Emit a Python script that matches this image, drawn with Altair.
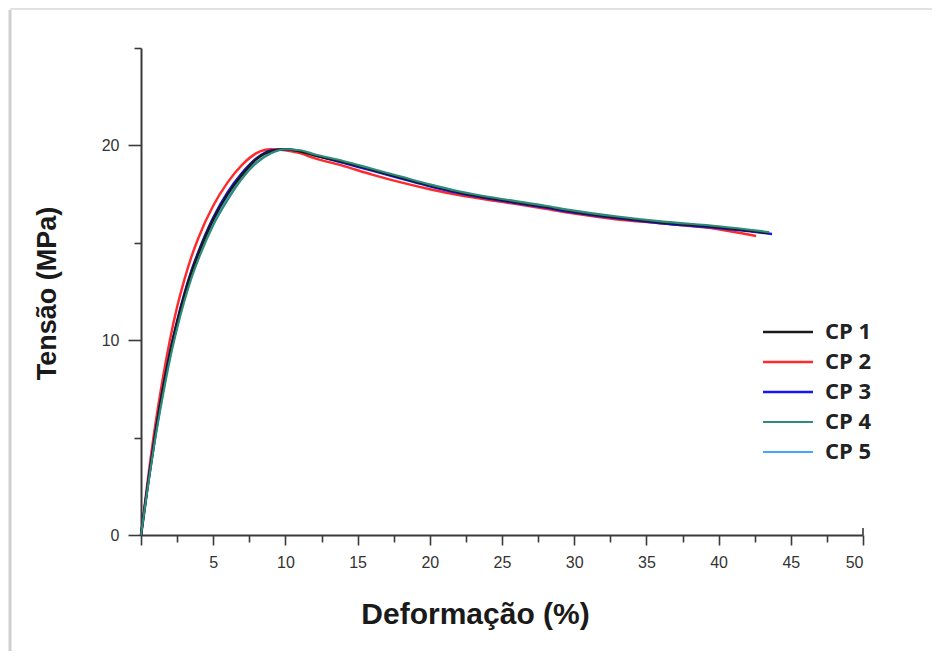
import altair as alt
import pandas as pd

series = ["CP 1", "CP 2", "CP 3", "CP 4", "CP 5"]
colors = ["#1a1a1a", "#ff2a2a", "#1414ff", "#2e8b7a", "#44a8ff"]
widths = [2.6, 2.0, 2.8, 2.4, 1.8]

strain_cp1 = [0, 0.5, 1, 1.5, 2, 2.5, 3, 3.5, 4, 5, 6, 7, 8, 9, 10, 11, 12, 14, 16, 18, 20, 22, 25, 28, 30, 33, 36, 40, 43.5]
stress_cp1 = [0, 2.7, 5.2, 7.4, 9.3, 10.9, 12.3, 13.5, 14.5, 16.2, 17.5, 18.5, 19.3, 19.7, 19.8, 19.7, 19.5, 19.15, 18.75, 18.35, 17.95, 17.6, 17.2, 16.85, 16.6, 16.3, 16.05, 15.8, 15.5]

strain_cp2 = [0, 0.5, 1, 1.5, 2, 2.5, 3, 3.5, 4, 5, 6, 7, 8, 9, 10, 11, 12, 14, 16, 18, 20, 22, 25, 28, 30, 33, 36, 40, 42.6]
stress_cp2 = [0, 3.0, 5.7, 8.0, 10.0, 11.7, 13.1, 14.3, 15.3, 16.9, 18.1, 19.0, 19.6, 19.8, 19.75, 19.6, 19.35, 18.95, 18.5, 18.1, 17.75, 17.45, 17.1, 16.75, 16.5, 16.2, 16.0, 15.7, 15.35]

strain_cp3 = [0, 0.5, 1, 1.5, 2, 2.5, 3, 3.5, 4, 5, 6, 7, 8, 9, 10, 11, 12, 14, 16, 18, 20, 22, 25, 28, 30, 33, 36, 40, 43.7]
stress_cp3 = [0, 2.8, 5.3, 7.5, 9.4, 11.0, 12.4, 13.6, 14.6, 16.3, 17.6, 18.6, 19.35, 19.75, 19.8, 19.7, 19.5, 19.1, 18.7, 18.3, 17.9, 17.55, 17.15, 16.8, 16.55, 16.25, 16.0, 15.75, 15.45]

strain_cp4 = [0, 0.5, 1, 1.5, 2, 2.5, 3, 3.5, 4, 5, 6, 7, 8, 9, 10, 11, 12, 14, 16, 18, 20, 22, 25, 28, 30, 33, 36, 40, 43.5]
stress_cp4 = [0, 2.6, 5.0, 7.1, 9.0, 10.6, 12.0, 13.2, 14.2, 15.9, 17.2, 18.3, 19.1, 19.6, 19.8, 19.75, 19.55, 19.2, 18.8, 18.4, 18.0, 17.65, 17.25, 16.9, 16.65, 16.35, 16.1, 15.85, 15.55]

strain_cp5 = [0, 0.5, 1, 1.5, 2, 2.5, 3, 3.5, 4, 5, 6, 7, 8, 9, 10, 11, 12, 14, 16, 18, 20, 22, 25, 28, 30, 33, 36, 40, 43.4]
stress_cp5 = [0, 2.65, 5.05, 7.2, 9.1, 10.7, 12.1, 13.3, 14.3, 16.0, 17.3, 18.35, 19.15, 19.6, 19.8, 19.7, 19.5, 19.15, 18.75, 18.35, 17.95, 17.6, 17.2, 16.85, 16.6, 16.3, 16.05, 15.8, 15.5]

x_tick_values = [0, 2.5, 5, 7.5, 10, 12.5, 15, 17.5, 20, 22.5, 25, 27.5, 30, 32.5, 35, 37.5, 40, 42.5, 45, 47.5, 50]
y_tick_values = [0, 5, 10, 15, 20, 25]
x_end = [50]

curves = [
    ("CP 5", strain_cp5, stress_cp5),
    ("CP 2", strain_cp2, stress_cp2),
    ("CP 3", strain_cp3, stress_cp3),
    ("CP 1", strain_cp1, stress_cp1),
    ("CP 4", strain_cp4, stress_cp4),
]
rows = []
for name, xs, ys in curves:
    for i, (xv, yv) in enumerate(zip(xs, ys)):
        rows.append({"serie": name, "strain": xv, "stress": yv, "idx": i})
df = pd.DataFrame(rows)

W, H = 722, 487

x_scale = alt.Scale(domain=[0, 50], nice=False, zero=False)
y_scale = alt.Scale(domain=[0, 25], nice=False)

x_axis = alt.Axis(
    values=x_tick_values,
    labelExpr="datum.value % 5 === 0 && datum.value > 0 ? format(datum.value, 'd') : ''",
    tickSize={"condition": {"test": "datum.value % 5 === 0", "value": 10}, "value": 7},
    grid=False,
    domainColor="#3a3a3a", domainWidth=2,
    tickColor="#3a3a3a", tickWidth=1.6,
    labelFont="Liberation Sans", labelFontSize=16, labelColor="#333333",
    labelPadding=9,
    title="Deformação (%)",
    titleFont="Liberation Sans", titleFontSize=30, titleFontWeight="bold",
    titleColor="#1a1a1a", titleX=334, titleY=88, titleBaseline="alphabetic",
    titleAlign="center", titleAnchor="start",
)
y_axis = alt.Axis(
    values=y_tick_values,
    labelExpr="datum.value % 10 === 0 && datum.value < 25 ? format(datum.value, 'd') : ''",
    tickSize={"condition": {"test": "datum.value % 10 === 0", "value": 13}, "value": 7},
    grid=False,
    domainColor="#3a3a3a", domainWidth=2,
    tickColor="#3a3a3a", tickWidth=1.6,
    labelFont="Liberation Sans", labelFontSize=16, labelColor="#333333",
    labelPadding=9,
    title="Tensão (MPa)",
    titleFont="Liberation Sans", titleFontSize=27, titleFontWeight="bold",
    titleColor="#1a1a1a", titleX=-86, titleY=245, titleBaseline="alphabetic",
    titleAlign="center", titleAnchor="start", titleAngle=270,
)

lines = alt.Chart(df).mark_line(interpolate="monotone").encode(
    x=alt.X("strain:Q", scale=x_scale, axis=x_axis),
    y=alt.Y("stress:Q", scale=y_scale, axis=y_axis),
    color=alt.Color(
        "serie:N",
        scale=alt.Scale(domain=series, range=colors),
        legend=alt.Legend(
            title=None, orient="none", legendX=611, legendY=273,
            symbolType="M-5,0H5", symbolSize=100, symbolOffset=25,
            labelFont="Open Sans", labelFontSize=22, labelFontWeight="bold",
            labelColor="#222222", labelOffset=26, rowPadding=8,
        ),
    ),
    strokeWidth=alt.StrokeWidth(
        "serie:N", scale=alt.Scale(domain=series, range=widths), legend=None
    ),
    order="idx:Q",
)

# small upturned end of the x axis line at 50
end_hook = alt.Chart(pd.DataFrame({"strain": x_end})).mark_rule(
    color="#3a3a3a", strokeWidth=1.6
).encode(
    x=alt.X("strain:Q", scale=x_scale, axis=x_axis),
    y=alt.value(H), y2=alt.value(H - 7),
)

frame_left = alt.Chart(pd.DataFrame({"k": [0]})).mark_rule(
    color="#d0d0d0", strokeWidth=3
).encode(x=alt.value(-131), y=alt.value(-38), y2=alt.value(H + 120))
frame_top = alt.Chart(pd.DataFrame({"k": [0]})).mark_rule(
    color="#e2e2e2", strokeWidth=2
).encode(y=alt.value(-39), x=alt.value(-131), x2=alt.value(W + 80))

chart = alt.layer(frame_left, frame_top, lines, end_hook).properties(
    width=W, height=H,
    autosize=alt.AutoSizeParams(type="none"),
    padding={"left": 133, "top": 40, "right": 69, "bottom": 116},
).configure(background="white").configure_view(stroke=None)

chart.save("out.html", embed_options={"renderer": "svg", "actions": False})
